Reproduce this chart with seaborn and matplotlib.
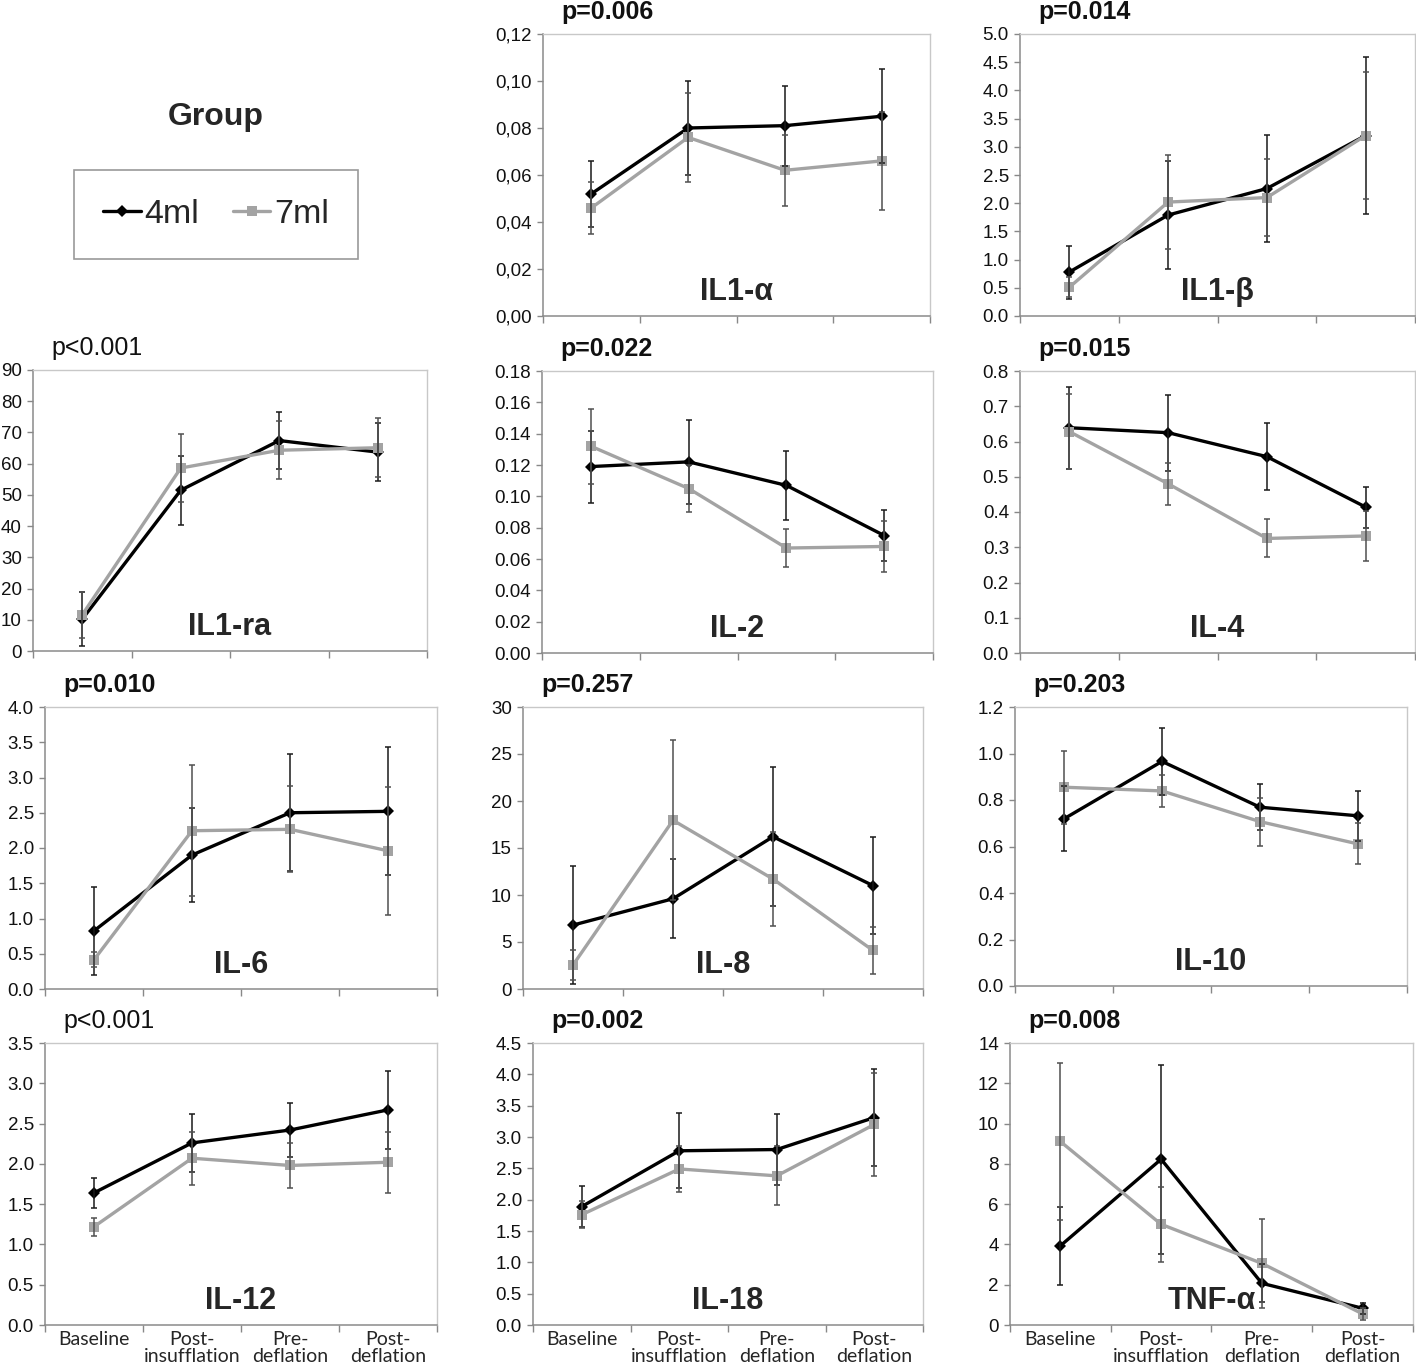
import numpy as np
import pandas as pd
import matplotlib
matplotlib.use("Agg")
import matplotlib.pyplot as plt
import seaborn as sns

# time points and cytokine panels
timepoints = ["Baseline", "Post-\ninsufflation", "Pre-\ndeflation", "Post-\ndeflation"]
groups = ["4ml", "7ml"]
cytokines = ["IL1-α", "IL1-β", "IL1-ra", "IL-2", "IL-4", "IL-6",
             "IL-8", "IL-10", "IL-12", "IL-18", "TNF-α"]
p_values = ["p=0.006", "p=0.014", "p<0.001", "p=0.022", "p=0.015", "p=0.010",
            "p=0.257", "p=0.203", "p<0.001", "p=0.002", "p=0.008"]

mean_4ml = [[0.052, 0.080, 0.081, 0.085],
            [0.78, 1.79, 2.26, 3.20],
            [10.2, 51.5, 67.4, 63.7],
            [0.119, 0.122, 0.107, 0.075],
            [0.639, 0.625, 0.557, 0.414],
            [0.825, 1.90, 2.50, 2.52],
            [6.8, 9.6, 16.2, 11.0],
            [0.719, 0.966, 0.769, 0.732],
            [1.64, 2.26, 2.42, 2.67],
            [1.89, 2.78, 2.80, 3.31],
            [3.93, 8.23, 2.07, 0.83]]
err_4ml = [[0.014, 0.020, 0.017, 0.020],
           [0.47, 0.95, 0.95, 1.40],
           [8.6, 11.0, 9.0, 9.3],
           [0.023, 0.027, 0.022, 0.016],
           [0.117, 0.108, 0.096, 0.058],
           [0.62, 0.67, 0.83, 0.91],
           [6.3, 4.2, 7.4, 5.15],
           [0.14, 0.144, 0.098, 0.107],
           [0.186, 0.36, 0.33, 0.48],
           [0.33, 0.60, 0.57, 0.78],
           [1.92, 4.70, 0.95, 0.28]]
mean_7ml = [[0.046, 0.076, 0.062, 0.066],
            [0.51, 2.02, 2.10, 3.20],
            [11.6, 58.6, 64.3, 65.1],
            [0.132, 0.105, 0.067, 0.068],
            [0.628, 0.480, 0.325, 0.332],
            [0.415, 2.245, 2.265, 1.96],
            [2.55, 17.95, 11.7, 4.1],
            [0.855, 0.839, 0.707, 0.611],
            [1.22, 2.07, 1.98, 2.02],
            [1.76, 2.49, 2.38, 3.20],
            [9.11, 5.00, 3.06, 0.55]]
err_7ml = [[0.011, 0.019, 0.015, 0.021],
           [0.18, 0.84, 0.69, 1.13],
           [7.3, 11.0, 9.3, 9.5],
           [0.024, 0.015, 0.012, 0.016],
           [0.107, 0.060, 0.054, 0.070],
           [0.11, 0.93, 0.61, 0.91],
           [1.6, 8.5, 4.95, 2.5],
           [0.157, 0.07, 0.103, 0.088],
           [0.11, 0.33, 0.28, 0.38],
           [0.22, 0.37, 0.47, 0.82],
           [3.92, 1.85, 2.2, 0.30]]

# y axis ranges
y_max = [0.12, 5.0, 90, 0.18, 0.8, 4.0, 30, 1.2, 3.5, 4.5, 14]
y_step = [0.02, 0.5, 10, 0.02, 0.1, 0.5, 5, 0.2, 0.5, 0.5, 2]
y_dec = [2, 1, 0, 2, 1, 1, 0, 1, 1, 1, 0]

W, H = 1416, 1370
# panel boxes in pixels: left, top, right, bottom
boxes = [(543, 34, 930, 316), (1020, 34, 1415, 316),
         (33, 370, 427, 651), (542, 371, 933, 653), (1020, 371, 1415, 653),
         (45, 707, 437, 989), (523, 707, 923, 989), (1015, 707, 1407, 986),
         (45, 1043, 437, 1325), (533, 1043, 923, 1325), (1010, 1043, 1413, 1325)]

sns.set_theme(style="white")
plt.rcParams["font.family"] = ["Liberation Sans", "DejaVu Sans"]

fig = plt.figure(figsize=(W / 100, H / 100), dpi=100)
palette = {"4ml": "black", "7ml": "#a3a3a3"}
ecolors = {"4ml": "#1a1a1a", "7ml": "#505050"}

axes = []
for i, name in enumerate(cytokines):
    l, t, r, b = boxes[i]
    ax = fig.add_axes([l / W, 1 - b / H, (r - l) / W, (b - t) / H])
    axes.append(ax)
    df = pd.DataFrame({"pos": list(range(4)) * 2,
                       "value": mean_4ml[i] + mean_7ml[i],
                       "Group": ["4ml"] * 4 + ["7ml"] * 4})
    sns.lineplot(data=df, x="pos", y="value", hue="Group", style="Group",
                 markers={"4ml": "D", "7ml": "s"}, dashes=False,
                 palette=palette, errorbar=None, lw=2.4, ms=6.5, mew=0,
                 ax=ax, legend=(i == 0))
    for g, m, e in [("4ml", mean_4ml[i], err_4ml[i]), ("7ml", mean_7ml[i], err_7ml[i])]:
        ax.errorbar(range(4), m, yerr=e, fmt="none", ecolor=ecolors[g],
                    elinewidth=1.1, capsize=2.5, capthick=1.1, zorder=3)

    ax.set_xlim(-0.5, 3.5)
    ax.set_ylim(0, y_max[i])
    ticks = np.round(np.arange(0, y_max[i] + y_step[i] / 2, y_step[i]), 4)
    ax.set_yticks(ticks)
    labels = [f"{v:.{y_dec[i]}f}" for v in ticks]
    if i == 0:
        labels = [s.replace(".", ",") for s in labels]
    ax.set_yticklabels(labels, fontsize=13.5)
    ax.set_xticks(range(4))
    ax.set_xticks(np.arange(-0.5, 4, 1), minor=True)
    if i >= 8:
        ax.set_xticklabels(timepoints, family=["Lato", "DejaVu Sans"], fontsize=14,
                           linespacing=1.05)
    else:
        ax.set_xticklabels([])
    ax.set_xlabel("")
    ax.set_ylabel("")
    ax.tick_params(axis="x", which="major", length=0, pad=4)
    ax.tick_params(axis="x", which="minor", length=5, width=1, color="#888888",
                   direction="out", bottom=True)
    ax.tick_params(axis="y", length=4, width=1, color="#888888", direction="out",
                   left=True, pad=4, labelcolor="#111111")
    for s in ["left", "bottom"]:
        ax.spines[s].set_color("#8a8a8a")
        ax.spines[s].set_linewidth(1.1)
    for s in ["top", "right"]:
        ax.spines[s].set_color("#c8c8c8")
        ax.spines[s].set_linewidth(1.0)

    ax.text(0.5, 0.085, name, transform=ax.transAxes, ha="center", va="center",
            fontsize=22, fontweight="bold")
    weight = "normal" if "<" in p_values[i] else "bold"
    fig.text((l + 18) / W, 1 - (t - 22) / H, p_values[i], ha="left", va="center",
             fontsize=18, fontweight=weight, color="#111111")

handles, labels = axes[0].get_legend_handles_labels()
axes[0].get_legend().remove()
leg = fig.legend(handles, labels, loc="center", bbox_to_anchor=(216 / W, 1 - 214.5 / H),
                 ncol=2, fontsize=24.5, frameon=True, fancybox=False, edgecolor="#808080",
                 handlelength=1.1, handletextpad=0.1, columnspacing=1.0, borderpad=0.85)
leg.get_frame().set_linewidth(1.2)
fig.text(216 / W, 1 - 117 / H, "Group", ha="center", va="center",
         fontsize=23, fontweight="bold")

fig.savefig("out.png", dpi=100)
